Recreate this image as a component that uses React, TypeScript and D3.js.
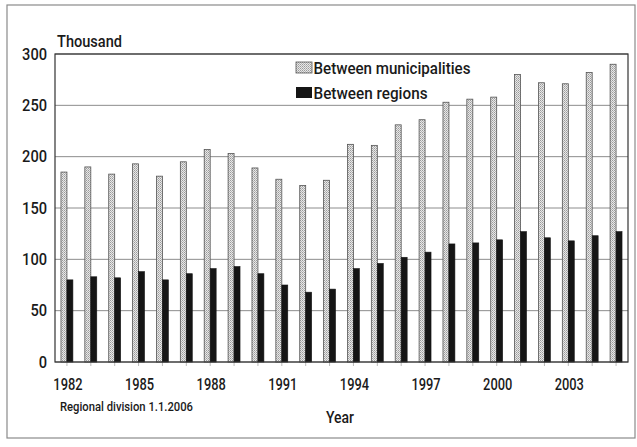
import React from "react";
import * as d3 from "d3";

const years = [1982,1983,1984,1985,1986,1987,1988,1989,1990,1991,1992,1993,1994,1995,1996,1997,1998,1999,2000,2001,2002,2003,2004,2005];
const betweenMunicipalities = [185,190,183,193,181,195,207,203,189,178,172,177,212,211,231,236,253,256,258,280,272,271,282,290];
const betweenRegions = [80,83,82,88,80,86,91,93,86,75,68,71,91,96,102,107,115,116,119,127,121,118,123,127];
const seriesNames = ["Between municipalities", "Between regions"];
const yTicks = [0,50,100,150,200,250,300];
const labeledYears = [1982,1985,1988,1991,1994,1997,2000,2003];

const FONT = "Roboto, 'DejaVu Sans Condensed', sans-serif";
const INK = "#1a1a1a";

export default function App() {
  const W = 637, H = 447;
  const left = 55, right = 628, top = 54, bottom = 362;
  const x = d3.scaleBand<number>().domain(years).range([left, right]).paddingInner(0.5).paddingOuter(0.25);
  const sub = d3.scaleBand<number>().domain([0, 1]).range([0, x.bandwidth()]).padding(0);
  const y = d3.scaleLinear().domain([0, 300]).range([bottom, top]);
  const digitW = 7.3;

  return (
    <svg width={W} height={H} style={{ position: "absolute", left: 0, top: 0, background: "#fff" }} fontFamily={FONT} fontWeight={500}>
      <defs>
        <pattern id="dots" width="2" height="2" patternUnits="userSpaceOnUse">
          <rect width="2" height="2" fill="#e8e8e8" />
          <rect width="1" height="1" fill="#9a9a9a" />
          <rect x="1" y="1" width="1" height="1" fill="#b5b5b5" />
        </pattern>
      </defs>
      <rect x={7} y={5} width={628} height={433} fill="#fff" stroke="#8a8a8a" strokeWidth={1.2} />
      {yTicks.map((t) => (
        <line key={"g" + t} x1={left} x2={right} y1={y(t)} y2={y(t)} stroke="#8c8c8c" strokeWidth={1} />
      ))}
      {years.map((yr, i) => (
        <g key={yr}>
          <rect x={x(yr)! + sub(0)!} y={y(betweenMunicipalities[i])} width={sub.bandwidth()} height={y(0) - y(betweenMunicipalities[i])} fill="url(#dots)" stroke="#555" strokeWidth={0.8} />
          <rect x={x(yr)! + sub(1)!} y={y(betweenRegions[i])} width={sub.bandwidth()} height={y(0) - y(betweenRegions[i])} fill="#151515" stroke="#151515" strokeWidth={0.6} />
          <line x1={x(yr)! + x.bandwidth() / 2} x2={x(yr)! + x.bandwidth() / 2} y1={bottom + 1} y2={bottom + 4} stroke="#aaa" strokeWidth={0.8} />
        </g>
      ))}
      <rect x={left} y={top} width={right - left} height={bottom - top} fill="none" stroke="#333" strokeWidth={1.2} />
      {yTicks.map((t) => (
        <text key={"t" + t} x={47} y={y(t) + 5.5} textAnchor="end" fontSize={16} fill={INK}
          textLength={String(t).length * 8.3} lengthAdjust="spacingAndGlyphs">{t}</text>
      ))}
      {labeledYears.map((yr) => (
        <text key={"x" + yr} x={x(yr)! + x.bandwidth() / 2 + 1} y={390} textAnchor="middle" fontSize={16} fill={INK}
          textLength={digitW * 4} lengthAdjust="spacingAndGlyphs">{yr}</text>
      ))}
      <text x={57} y={46.7} fontSize={16} fill={INK} textLength={65} lengthAdjust="spacingAndGlyphs">Thousand</text>
      <text x={60} y={410.5} fontSize={12.5} fill={INK} textLength={133} lengthAdjust="spacingAndGlyphs">Regional division 1.1.2006</text>
      <text x={326} y={422.7} fontSize={16.5} fill={INK} textLength={28} lengthAdjust="spacingAndGlyphs">Year</text>
      <rect x={296} y={62} width={16} height={11} fill="url(#dots)" stroke="#555" strokeWidth={0.8} />
      <text x={313.5} y={74} fontSize={16} fill={INK} textLength={157} lengthAdjust="spacingAndGlyphs">{seriesNames[0]}</text>
      <rect x={296} y={87} width={16} height={11} fill="#151515" />
      <text x={313.5} y={99} fontSize={16} fill={INK} textLength={114} lengthAdjust="spacingAndGlyphs">{seriesNames[1]}</text>
    </svg>
  );
}
